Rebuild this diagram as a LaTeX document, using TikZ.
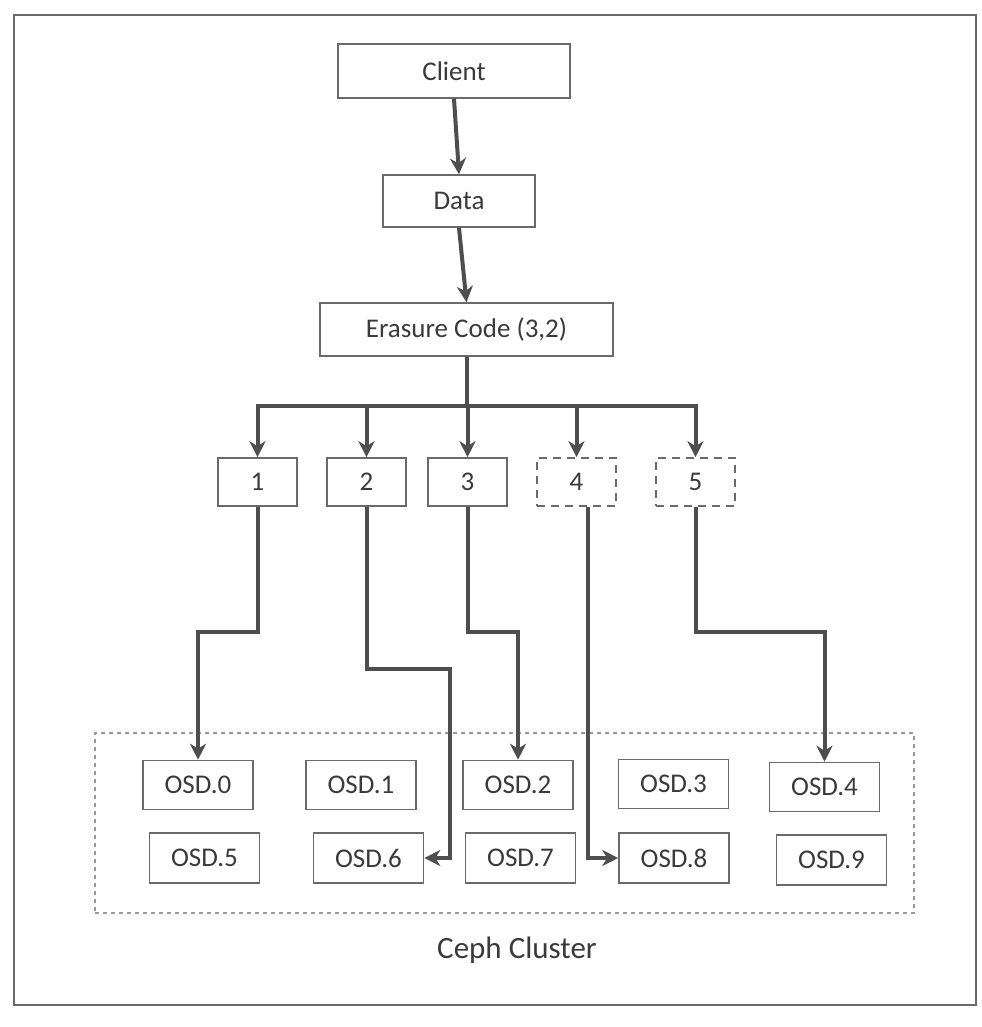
\documentclass[tikz,border=0pt]{standalone}
\usepackage{fontspec}
\setmainfont{Carlito}
\usetikzlibrary{arrows.meta}
\definecolor{arrowc}{HTML}{4E4E4E}
\definecolor{boxc}{HTML}{6A6A6A}
\definecolor{textc}{HTML}{3A3A3A}
\tikzset{
  box/.style={draw=boxc, line width=0.8pt, inner sep=0pt, text=textc,
    font=\fontsize{13.5}{16}\selectfont},
  dbox/.style={box, dash pattern=on 4pt off 3pt},
  osd/.style={box, minimum width=55pt, minimum height=24.5pt},
  chunk/.style={box, minimum width=39.5pt, minimum height=24pt},
  conn/.style={draw=arrowc, line width=2pt, -{Stealth[length=8pt,width=8pt,inset=2.5pt]}},
  plain/.style={draw=arrowc, line width=2pt},
}
\begin{document}
\begin{tikzpicture}[x=0.5pt,y=-0.5pt]
\useasboundingbox (0,0) rectangle (981,1027);
\fill[white] (0,0) rectangle (981,1027);
% outer frame
\draw[boxc, line width=1pt] (14,15) rectangle (976,1005);
% cluster
\node[draw=gray!80, line width=0.6pt, dash pattern=on 2pt off 2pt,
  minimum width=409.5pt, minimum height=90pt, inner sep=0pt] (cluster) at (504.5,823) {};
\node[text=textc, font=\fontsize{15.5}{18}\selectfont] (clabel) at (517,950) {Ceph Cluster};

% top boxes
\node[box, minimum width=116pt, minimum height=27pt] (client) at (454,71) {Client};
\node[box, minimum width=76pt, minimum height=26pt] (data) at (459,201) {Data};
\node[box, minimum width=146.5pt, minimum height=26.5pt] (ec) at (466.5,329.5) {Erasure Code (3,2)};

% chunks
\node[chunk] (c1) at (257.5,482) {1};
\node[chunk] (c2) at (366.5,482) {2};
\node[chunk] (c3) at (467.5,482) {3};
\node[chunk, dbox] (c4) at (576.5,482) {4};
\node[chunk, dbox] (c5) at (695.5,482) {5};

% OSDs
\node[osd] (o0) at (198,785) {OSD.0};
\node[osd] (o1) at (361,785) {OSD.1};
\node[osd] (o2) at (518,785) {OSD.2};
\node[osd] (o3) at (673.5,784) {OSD.3};
\node[osd] (o4) at (824.5,787) {OSD.4};
\node[osd, minimum height=25pt] (o5) at (204.5,858) {OSD.5};
\node[osd, minimum height=25pt] (o6) at (368.5,858) {OSD.6};
\node[osd, minimum height=25pt] (o7) at (520.5,858) {OSD.7};
\node[osd, minimum height=25pt] (o8) at (674,858) {OSD.8};
\node[osd, minimum height=25pt] (o9) at (831.5,860) {OSD.9};

% connectors top
\draw[conn] (client.south) -- (data.north);
\draw[conn] (data.south) -- (ec.north);

% bus
\coordinate (busL) at (257.5,406);
\coordinate (busR) at (695.5,406);
\draw[plain] (ec.south) -- (ec.south |- busL);
\draw[plain, line cap=rect] (busL) -- (busR);
\draw[conn] (c1.north |- busL) -- (c1.north);
\draw[conn] (c2.north |- busL) -- (c2.north);
\draw[conn] (c3.north |- busL) -- (c3.north);
\draw[conn] (c4.north |- busL) -- (c4.north);
\draw[conn] (c5.north |- busL) -- (c5.north);

% routes to OSDs
\coordinate (k2) at (450,669);
\draw[conn] (c1.south) -- (c1.south |- 0,632) -| (o0.north);
\draw[conn] (c2.south) -- (c2.south |- k2) -- (k2) |- (o6.east);
\draw[conn] (c3.south) -- (c3.south |- 0,632) -| (o2.north);
\draw[conn] ([xshift=5.5pt]c4.south) |- (o8.west);
\draw[conn] (c5.south) -- (c5.south |- 0,632) -| (o4.north);
\end{tikzpicture}
\end{document}
